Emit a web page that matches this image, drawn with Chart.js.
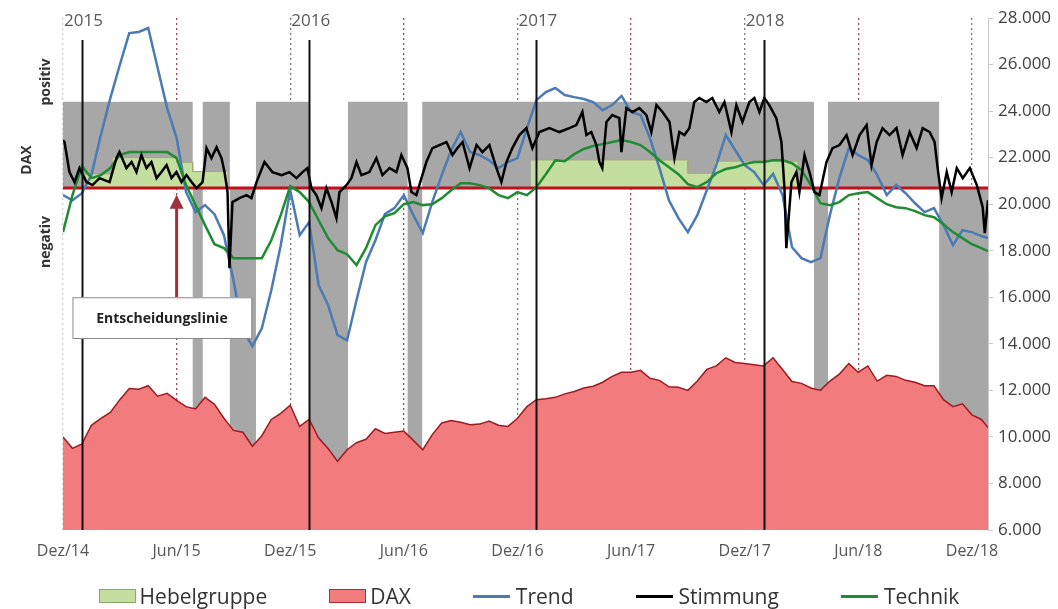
<!DOCTYPE html>
<html>
<head>
<meta charset="utf-8">
<script src="https://cdn.jsdelivr.net/npm/chart.js@4.4.1/dist/chart.umd.min.js"></script>
<style>
  html, body { margin: 0; padding: 0; background: #fff; }
  #wrap { position: relative; width: 1058px; height: 609px; }
  #legende { position: absolute; left: 0; top: 582px; width: 1058px; height: 28px;
             display: flex; justify-content: center; align-items: center; gap: 62px;
             font-family: "Open Sans", sans-serif; font-size: 21px; color: #333; }
  #legende .item { display: flex; align-items: center; line-height: 28px; }
  #legende .box { width: 35px; height: 12px; margin-right: 4px; }
  #legende .linie { width: 37px; height: 3px; margin-right: 6px; }
</style>
</head>
<body>
<div id="wrap">
  <canvas id="myChart" width="1058" height="609"></canvas>
  <div id="legende"></div>
</div>
<script>
// Monate ab 1. Dez 2014
const monate = [0,0.5,1,1.5,2,2.5,3,3.5,4,4.5,5,5.5,6,6.5,7,7.5,8,8.5,9,9.5,
  10,10.5,11,11.5,12,12.5,13,13.5,14,14.5,15,15.5,16,16.5,17,17.5,18,18.5,19,19.5,
  20,20.5,21,21.5,22,22.5,23,23.5,24,24.5,25,25.5,26,26.5,27,27.5,28,28.5,29,29.5,
  30,30.5,31,31.5,32,32.5,33,33.5,34,34.5,35,35.5,36,36.5,37,37.5,38,38.5,39,39.5,
  40,40.5,41,41.5,42,42.5,43,43.5,44,44.5,45,45.5,46,46.5,47,47.5,48,48.5,48.85];

const xBeschriftung = ['Dez/14','Jun/15','Dez/15','Jun/16','Dez/16','Jun/17','Dez/17','Jun/18','Dez/18'];
const jahre = ['2015','2016','2017','2018'];
const jahrLabelMonat = [0, 12, 24, 36];
const jahrAnfang = [1, 13, 25, 37];

const dax = [10000,9510,9700,10500,10800,11050,11600,12080,12050,12200,
  11750,11870,11570,11300,11200,11700,11400,10800,10280,10200,
  9600,10050,10750,11010,11360,10450,10750,9950,9500,8950,
  9450,9750,9900,10350,10150,10200,10250,9850,9450,10100,
  10600,10700,10630,10520,10550,10680,10500,10450,10800,11300,
  11600,11640,11700,11850,11950,12100,12180,12350,12600,12780,
  12780,12860,12520,12430,12150,12130,12000,12400,12900,13050,
  13400,13200,13150,13100,13050,13400,12900,12380,12300,12100,
  12000,12400,12700,13150,12780,13050,12400,12650,12600,12430,
  12350,12200,12200,11600,11300,11420,10950,10750,10400];

const trend = [20390,20170,20470,21250,22970,24560,25980,27350,27400,27570,
  25850,24130,22840,20520,19660,19960,19570,18670,16730,14580,
  13900,14670,16300,18240,20600,18670,19230,16520,15660,14370,
  14150,15870,17510,18450,19570,19830,20390,19530,18760,20090,
  21250,22320,23100,22240,22110,21890,21550,21810,21980,23270,
  24470,24820,24990,24690,24600,24520,24390,24040,24260,24650,
  23960,23830,22840,21550,20170,19400,18800,19530,20600,21680,
  22970,22320,21680,21380,20820,21300,20390,18150,17680,17510,
  17680,19530,21120,22410,22110,21890,21250,20390,20820,20470,
  20040,19660,19830,19100,18240,18880,18800,18630,18540];

const technik = [18800,20390,21640,21120,21250,21550,22110,22240,22240,22240,
  22240,22240,21980,20820,19960,19100,18280,18110,17680,17680,
  17680,17680,18450,19530,20770,20520,20090,19310,18540,18020,
  17850,17380,18110,19100,19480,19610,20000,20090,19960,20000,
  20260,20600,20900,20900,20820,20690,20390,20260,20520,20390,
  20730,21290,21890,21850,22150,22370,22500,22580,22670,22760,
  22670,22540,22240,21890,21590,21290,20860,20730,20950,21330,
  21510,21590,21720,21810,21810,21890,21890,21760,21460,20820,
  20040,19960,20090,20390,20470,20520,20260,20000,19870,19830,
  19700,19530,19440,19140,18800,18540,18280,18110,17980];

// Stimmung: eigene, dichtere Zeitachse
const stimmungMonate = [0,0.08,0.34,0.61,0.87,1.24,1.56,1.93,2.46,2.82,2.98,3.35,3.62,3.88,4.14,4.41,4.67,4.94,5.2,5.47,
  5.73,5.99,6.26,6.52,6.79,7.05,7.37,7.58,7.84,8.11,8.37,8.53,8.69,8.79,8.95,9.32,9.69,9.95,10.22,10.64,
  11.06,11.54,11.96,12.33,12.65,12.91,13.12,13.38,13.65,13.91,14.18,14.44,14.6,14.97,15.23,15.5,15.76,16.18,16.55,16.87,
  17.24,17.61,17.87,18.19,18.4,18.66,18.93,19.19,19.51,19.88,20.25,20.57,20.83,21.1,21.47,21.84,22.15,22.52,22.89,23.15,
  23.42,23.73,24.1,24.47,24.79,25.16,25.69,26.21,26.74,27.11,27.43,27.64,27.9,28.17,28.33,28.48,28.7,29.01,29.38,29.49,
  29.75,30.07,30.44,30.81,31.07,31.34,31.66,32.03,32.29,32.55,32.82,33.08,33.34,33.61,33.98,34.29,34.66,34.93,35.3,35.56,
  35.88,36.25,36.51,36.78,37.04,37.3,37.67,37.94,38.1,38.2,38.47,38.73,38.89,39.16,39.42,39.69,39.95,40.32,40.64,41.01,
  41.38,41.7,42.07,42.44,42.7,42.97,43.28,43.65,44.02,44.34,44.71,45.08,45.4,45.77,46.03,46.19,46.4,46.67,46.93,47.2,
  47.52,47.89,48.26,48.57,48.68,48.85];
const stimmung = [22750,22670,21380,20950,21550,20950,20820,21120,20950,21980,22240,21550,21810,21380,22110,21550,21810,21120,21380,21680,
  21120,21380,20950,21250,20950,20690,20950,22410,21980,22450,21980,21380,20520,17250,20090,20260,20390,20260,20950,21810,
  21380,21250,21380,21120,21380,21550,20690,20390,19830,20690,20090,19400,20520,20820,21120,21810,21250,21380,21980,21250,
  21550,21380,22110,21550,20520,20390,21120,21810,22410,22540,22670,22110,22410,22670,21550,22540,22240,22540,21550,20950,
  21810,22410,22970,23270,22410,23100,23270,23100,23270,23400,23960,22970,23100,22540,21810,21550,23530,23830,23700,22240,
  24130,23960,24130,23830,23100,24260,23960,23530,21980,23100,22970,23270,24390,24560,24390,24560,23960,24390,23100,24260,
  23530,24390,24560,23960,24560,24260,23700,22670,20690,18110,20950,21380,20520,22110,21380,20520,20390,21810,22410,22540,
  22970,22110,22970,23400,21680,22670,23270,22970,23270,22110,23100,22410,23270,23100,22670,21550,20260,21380,20520,21550,
  21120,21550,20820,19870,18760,20170];

// Hebelgruppe (Stufen)
const hebelVon  = [1.2, 2.6, 6.0, 6.85, 24.7, 33.0, 34.4];
const hebelBis  = [2.6, 6.0, 6.85, 8.7, 33.0, 34.4, 38.8];
const hebelWert = [21300, 22000, 21800, 21400, 21900, 21330, 21850];

// Signalphasen
const positivVon = [0, 7.38, 10.19, 15.05, 18.97, 40.4];
const positivBis = [6.85, 8.81, 13.04, 18.2, 39.66, 46.27];
const negativVon = [6.85, 8.81, 13.04, 18.2, 39.66, 46.27];
const negativBis = [7.38, 10.19, 15.05, 18.97, 40.4, 48.85];

const entscheidungslinie = 20700;
const bandOben = 24400;
const jahrLinieOben = 27050;

function punkte(werte) {
  return monate.map((m, i) => ({ x: m, y: werte[i] }));
}

var hebelPunkte = [];
hebelVon.forEach((v, i) => {
  hebelPunkte.push({ x: v, y: hebelWert[i] });
  hebelPunkte.push({ x: hebelBis[i], y: hebelWert[i] });
  if (i < hebelVon.length - 1 && hebelVon[i + 1] !== hebelBis[i]) {
    hebelPunkte.push({ x: hebelBis[i], y: null });
  }
});

function tausender(v) {
  return String(v).replace(/\B(?=(\d{3})+(?!\d))/g, '.');
}

const baender = {
  id: 'baender',
  beforeDatasetsDraw(chart) {
    const { ctx, scales: { x, y } } = chart;
    ctx.save();
    ctx.fillStyle = '#a7a7a7';
    positivVon.forEach((v, i) => {
      const x1 = x.getPixelForValue(v), x2 = x.getPixelForValue(positivBis[i]);
      const y1 = y.getPixelForValue(bandOben), y2 = y.getPixelForValue(entscheidungslinie);
      ctx.fillRect(x1, y1, x2 - x1, y2 - y1);
    });
    negativVon.forEach((v, i) => {
      const x1 = x.getPixelForValue(v), x2 = x.getPixelForValue(negativBis[i]);
      const y1 = y.getPixelForValue(entscheidungslinie), y2 = y.getPixelForValue(y.min);
      ctx.fillRect(x1, y1, x2 - x1, y2 - y1);
    });
    ctx.restore();
  }
};

const extras = {
  id: 'extras',
  afterDatasetsDraw(chart) {
    const { ctx, scales: { x, y } } = chart;
    ctx.save();
    // Jahreslinien
    ctx.strokeStyle = '#111';
    ctx.lineWidth = 2;
    jahrAnfang.forEach(m => {
      const px = Math.round(x.getPixelForValue(m)) + 0.5;
      ctx.beginPath();
      ctx.moveTo(px, y.getPixelForValue(jahrLinieOben));
      ctx.lineTo(px, y.getPixelForValue(y.min));
      ctx.stroke();
    });
    ctx.fillStyle = '#5a5a5a';
    ctx.font = '17px "Open Sans"';
    ctx.textBaseline = 'top';
    ctx.textAlign = 'left';
    jahre.forEach((j, i) => {
      ctx.fillText(j, x.getPixelForValue(jahrLabelMonat[i]) + 1, 13);
    });

    // Entscheidungslinie Pfeil + Kasten
    const ax = x.getPixelForValue(6.0);
    const aTop = y.getPixelForValue(20400);
    const aBot = y.getPixelForValue(16000);
    ctx.strokeStyle = '#a0303c';
    ctx.fillStyle = '#a0303c';
    ctx.lineWidth = 3;
    ctx.beginPath();
    ctx.moveTo(ax, aBot);
    ctx.lineTo(ax, aTop + 12);
    ctx.stroke();
    ctx.beginPath();
    ctx.moveTo(ax, aTop);
    ctx.lineTo(ax - 7, aTop + 14);
    ctx.lineTo(ax + 7, aTop + 14);
    ctx.closePath();
    ctx.fill();

    const bx1 = x.getPixelForValue(0.5), bx2 = x.getPixelForValue(9.95);
    const by1 = y.getPixelForValue(16000), by2 = y.getPixelForValue(14250);
    ctx.fillStyle = '#fff';
    ctx.fillRect(bx1, by1, bx2 - bx1, by2 - by1);
    ctx.strokeStyle = '#8a8a8a';
    ctx.lineWidth = 1;
    ctx.strokeRect(bx1 + 0.5, by1 + 0.5, bx2 - bx1, by2 - by1);
    ctx.fillStyle = '#222';
    ctx.font = 'bold 14px "Open Sans"';
    ctx.textAlign = 'center';
    ctx.textBaseline = 'middle';
    ctx.fillText('Entscheidungslinie', (bx1 + bx2) / 2, (by1 + by2) / 2 + 1);
    ctx.restore();
  },
  afterDraw(chart) {
    const { ctx } = chart;
    ctx.save();
    ctx.fillStyle = '#333';
    ctx.font = 'bold 14px "Open Sans"';
    ctx.textAlign = 'center';
    ctx.textBaseline = 'middle';
    [['positiv', 46, 82], ['DAX', 27, 160], ['negativ', 46, 242]].forEach(t => {
      ctx.save();
      ctx.translate(t[1], t[2]);
      ctx.rotate(-Math.PI / 2);
      ctx.fillText(t[0], 0, 0);
      ctx.restore();
    });
    ctx.restore();
  }
};

const htmlLegende = {
  id: 'htmlLegende',
  afterUpdate(chart) {
    const box = document.getElementById('legende');
    box.innerHTML = '';
    chart.data.datasets.forEach(ds => {
      if (!ds.label) return;
      const item = document.createElement('div');
      item.className = 'item';
      const sw = document.createElement('span');
      if (ds.fill) {
        sw.className = 'box';
        sw.style.background = ds.backgroundColor;
        sw.style.border = '1px solid ' + ds.legendRand;
      } else {
        sw.className = 'linie';
        sw.style.background = ds.borderColor;
      }
      const txt = document.createElement('span');
      txt.textContent = ds.label;
      item.appendChild(sw);
      item.appendChild(txt);
      box.appendChild(item);
    });
  }
};

const ctx = document.getElementById('myChart').getContext('2d');
const myChart = new Chart(ctx, {
  type: 'line',
  data: {
    datasets: [
      {
        label: 'Hebelgruppe',
        data: hebelPunkte,
        backgroundColor: '#c4dea0',
        borderColor: '#a8a67a',
        legendRand: '#8aa86a',
        borderWidth: 1,
        fill: { value: entscheidungslinie },
        spanGaps: false,
        order: 5
      },
      {
        label: 'DAX',
        data: punkte(dax),
        backgroundColor: '#f27b7d',
        borderColor: '#9e1b20',
        legendRand: '#b02a2e',
        borderWidth: 1.5,
        fill: 'start',
        order: 6
      },
      {
        label: 'Trend',
        data: punkte(trend),
        borderColor: '#4a7bb5',
        borderWidth: 2.5,
        fill: false,
        order: 3
      },
      {
        label: 'Stimmung',
        data: stimmungMonate.map((m, i) => ({ x: m, y: stimmung[i] })),
        borderColor: '#000000',
        borderWidth: 2.5,
        fill: false,
        order: 1
      },
      {
        label: 'Technik',
        data: punkte(technik),
        borderColor: '#1f8b33',
        borderWidth: 2.5,
        fill: false,
        order: 2
      },
      {
        label: '',
        data: [{ x: 0, y: entscheidungslinie }, { x: 48.85, y: entscheidungslinie }],
        borderColor: '#c0101a',
        borderWidth: 3,
        fill: false,
        order: 4
      }
    ]
  },
  options: {
    responsive: false,
    animation: false,
    devicePixelRatio: 1,
    elements: { point: { radius: 0 }, line: { tension: 0 } },
    layout: { padding: { left: 63, top: 18, right: 0, bottom: 39 } },
    plugins: { legend: { display: false }, tooltip: { enabled: false } },
    scales: {
      x: {
        type: 'linear',
        min: 0,
        max: 48.85,
        afterFit: s => { s.height = 40; },
        ticks: {
          stepSize: 6,
          includeBounds: false,
          autoSkip: false,
          maxRotation: 0,
          padding: 12,
          color: '#555',
          font: { family: 'Open Sans', size: 16 },
          callback: v => xBeschriftung[Math.round(v / 6)]
        },
        grid: {
          drawTicks: false,
          lineWidth: 1.3,
          color: c => c.tick && c.tick.value === 0 ? '#cfcfcf' : (c.index % 2 ? '#9a4a52' : '#7a7a7a')
        },
        border: { display: false, dash: [2, 3] }
      },
      y: {
        position: 'right',
        min: 6000,
        max: 28000,
        afterFit: s => { s.width = 70; },
        ticks: {
          stepSize: 2000,
          padding: 5,
          color: '#404040',
          font: { family: 'Open Sans', size: 17 },
          callback: v => tausender(v)
        },
        grid: { drawOnChartArea: false, tickLength: 5, color: '#c8c8c8' },
        border: { display: true, color: '#c8c8c8' }
      }
    }
  },
  plugins: [baender, extras, htmlLegende]
});
</script>
</body>
</html>
